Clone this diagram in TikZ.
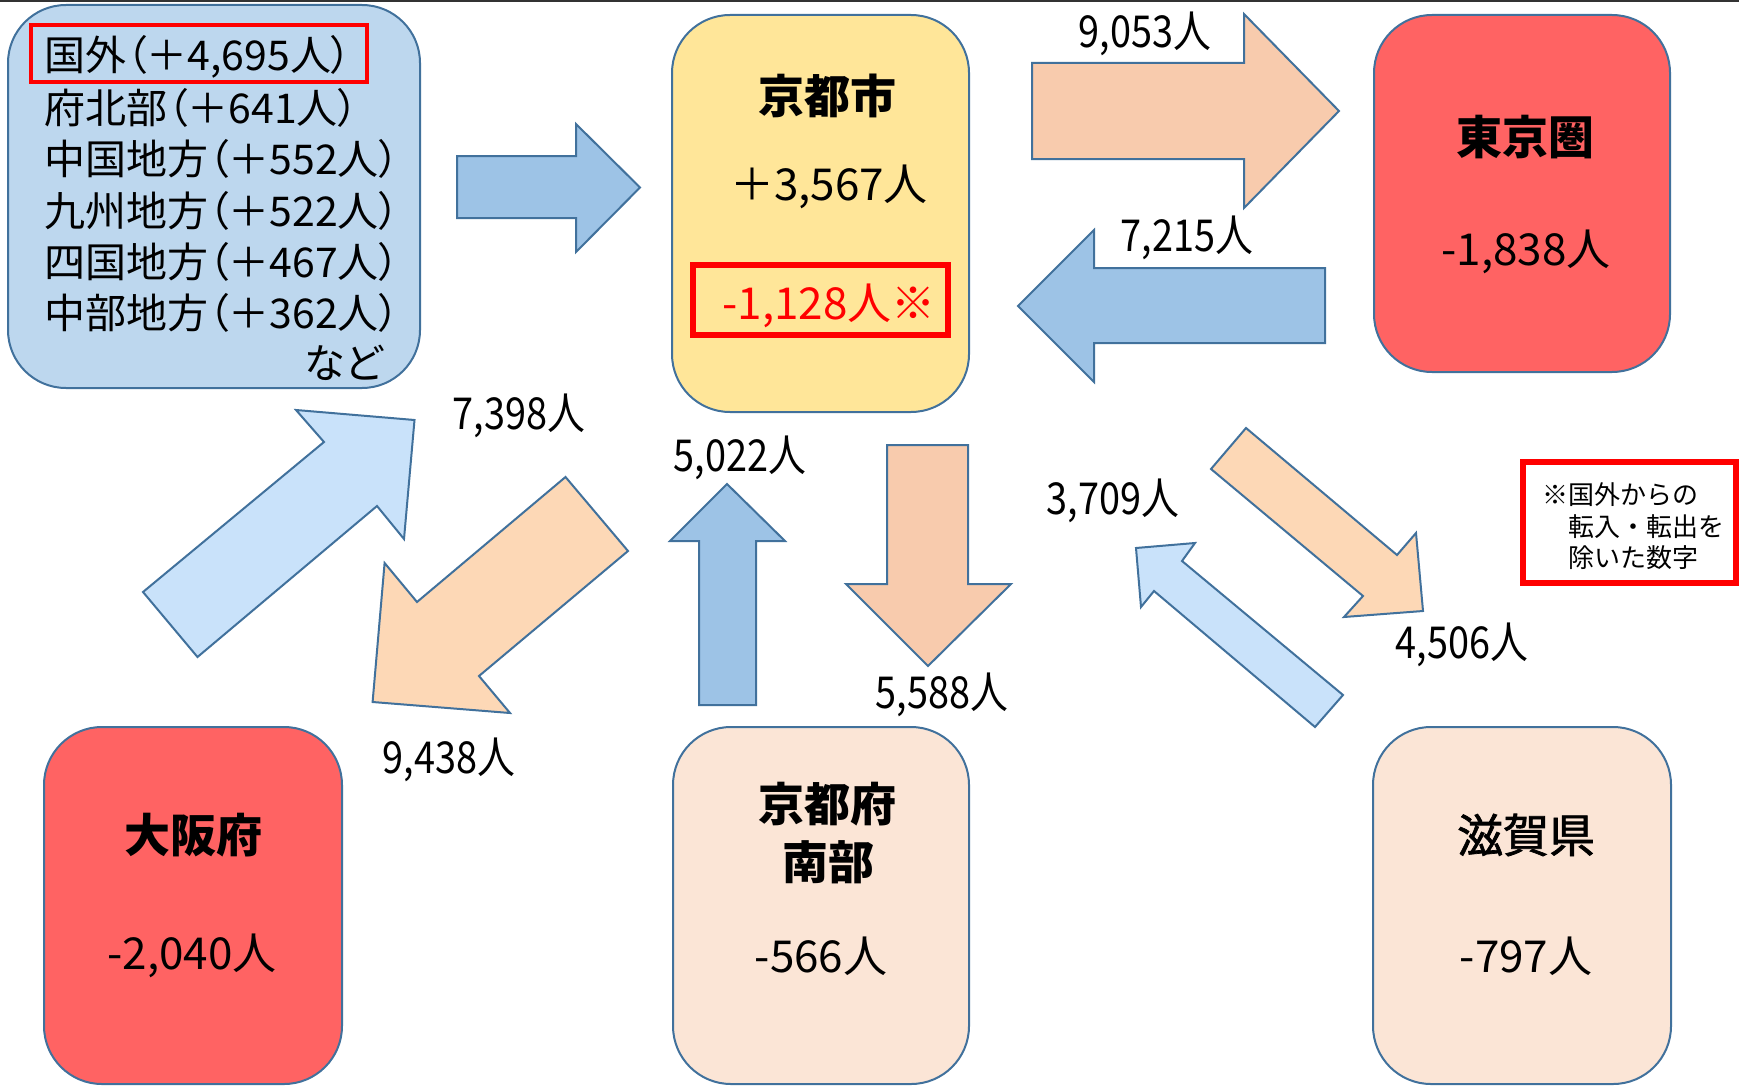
\documentclass[tikz,border=0pt]{standalone}
\usepackage{fontspec}
\setmainfont{Noto Sans CJK JP}
\newfontfamily\pjp{Noto Sans CJK JP}[RawFeature=+palt]
\newfontfamily\nrw{Noto Sans CJK JP}[FakeStretch=0.86]
\newfontfamily\medjp{Noto Sans CJK JP}[FakeBold=1.5]
\definecolor{edgeblue}{HTML}{41719C}
\definecolor{lbox}{HTML}{BDD7EE}
\definecolor{yel}{HTML}{FFE699}
\definecolor{redbox}{HTML}{FF6363}
\definecolor{pinkbox}{HTML}{FBE5D6}
\definecolor{arrblue}{HTML}{9DC3E6}
\definecolor{arrlblue}{HTML}{C9E2FA}
\definecolor{arrorange}{HTML}{F8CBAD}
\definecolor{arrlorange}{HTML}{FDD8B6}
\definecolor{topline}{HTML}{333333}
\begin{document}
\begin{tikzpicture}[x=1pt,y=-1pt,
  box/.style={draw=edgeblue, line width=2pt, rounded corners=58pt, inner sep=0pt},
  arr/.style={draw=edgeblue, line width=2pt, line join=miter},
  redframe/.style={draw=red, inner sep=0pt},
  lbl/.style={font=\nrw\fontsize{44}{50}\selectfont, inner sep=0pt},
  ttl/.style={font=\bfseries\fontsize{46}{52}\selectfont, inner sep=0pt},
  val/.style={font=\fontsize{44}{50}\selectfont, inner sep=0pt},
  lst/.style={font=\pjp\fontsize{41}{46}\selectfont, inner sep=0pt, anchor=west},
  notetxt/.style={font=\fontsize{26}{30}\selectfont, inner sep=0pt, anchor=west}]
\useasboundingbox (0,0) rectangle (1739,1089);
\fill[white] (0,0) rectangle (1739,1089);
\coordinate (tl) at (0,1.2);
\coordinate (tr) at (1739,1.2);
\draw[topline, line width=2.5pt] (tl) -- (tr);

% boxes
\node[box, fill=lbox, minimum width=412pt, minimum height=383pt] (left) at (214,196.5) {};
\node[box, fill=yel, minimum width=297pt, minimum height=397pt] (kyoto) at (820.5,213.5) {};
\node[box, fill=redbox, minimum width=296pt, minimum height=357pt] (tokyo) at (1522,193.5) {};
\node[box, fill=redbox, minimum width=298pt, minimum height=357pt] (osaka) at (193,905.5) {};
\node[box, fill=pinkbox, minimum width=296pt, minimum height=357pt] (nanbu) at (821,905.5) {};
\node[box, fill=pinkbox, minimum width=298pt, minimum height=357pt] (shiga) at (1522,905.5) {};

% red frames
\node[redframe, line width=3.5pt, minimum width=336pt, minimum height=57pt] (kfr) at (199,53.5) {};
\node[redframe, line width=6pt, minimum width=255pt, minimum height=70pt] (kyfr) at (820.5,300) {};
\node[redframe, line width=6pt, minimum width=213pt, minimum height=121pt, fill=white] (note) at (1629.5,522.5) {};

% arrows
\draw[arr, fill=arrblue] (457,156) -- (576,156) -- (576,124) -- (640,187.5) -- (576,252) -- (576,218) -- (457,218) -- cycle;
\draw[arr, fill=arrorange] (1032,63) -- (1244,63) -- (1244,14) -- (1339,111) -- (1244,208) -- (1244,159) -- (1032,159) -- cycle;
\draw[arr, fill=arrblue] (1325,268) -- (1094,268) -- (1094,230) -- (1018,306) -- (1094,382) -- (1094,343) -- (1325,343) -- cycle;
\draw[arr, fill=arrblue] (699,705) -- (699,541) -- (670,541) -- (727,484) -- (785,541) -- (756,541) -- (756,705) -- cycle;
\draw[arr, fill=arrorange] (887,445) -- (968,445) -- (968,584) -- (1011,584) -- (928,666) -- (846,584) -- (887,584) -- cycle;
\draw[arr, fill=arrlblue] (143,592) -- (324,442) -- (296,410) -- (414.5,420) -- (404,539) -- (377,506) -- (197.5,657) -- cycle;
\draw[arr, fill=arrlorange] (565.5,477) -- (417,602) -- (384.6,563) -- (372.6,702) -- (510,713) -- (479,676) -- (628,551) -- cycle;
\draw[arr, fill=arrlorange] (1246,428) -- (1397,555) -- (1416,533) -- (1423,611) -- (1344,617) -- (1363,596) -- (1211,469) -- cycle;
\draw[arr, fill=arrlblue] (1343,695) -- (1182,561) -- (1195,543) -- (1136,548) -- (1141,607) -- (1154,591) -- (1315,727) -- cycle;

% list in left box
\node[lst] (l1) at (44,57) {国外（＋4,695人）};
\node[lst] (l2) at (44,108) {府北部（＋641人）};
\node[lst] (l3) at (44,159) {中国地方（＋552人）};
\node[lst] (l4) at (44,211) {九州地方（＋522人）};
\node[lst] (l5) at (44,262) {四国地方（＋467人）};
\node[lst] (l6) at (44,313) {中部地方（＋362人）};
\node[lst, anchor=east] (l7) at (383,363) {など};

% box texts
\node[ttl] (t1) at (827,96) {京都市};
\node[val] (v1) at (829,187) {＋3,567人};
\node[val, text=red] (v1b) at (829,306) {-1,128人※};
\node[ttl] (t2) at (1525,137) {東京圏};
\node[val] (v2) at (1526,252) {-1,838人};
\node[ttl] (t3) at (193,835) {大阪府};
\node[val] (v3) at (192,956) {-2,040人};
\node[ttl] (t4) at (827,804) {京都府};
\node[ttl] (t4b) at (828,862) {南部};
\node[val] (v4) at (821,956) {-566人};
\node[ttl, font=\medjp\fontsize{46}{52}\selectfont] (t5) at (1526,835) {滋賀県};
\node[val] (v5) at (1526,956) {-797人};

% flow labels
\node[lbl] (f1) at (1145,34) {9,053人};
\node[lbl] (f2) at (1187,238) {7,215人};
\node[lbl] (f3) at (519,416) {7,398人};
\node[lbl] (f4) at (740,458) {5,022人};
\node[lbl] (f5) at (942,695) {5,588人};
\node[lbl] (f6) at (449,760) {9,438人};
\node[lbl] (f7) at (1113,501) {3,709人};
\node[lbl] (f8) at (1462,645) {4,506人};

% note
\node[notetxt] (n1) at (1542,495) {※国外からの};
\node[notetxt] (n2) at (1568,527) {転入・転出を};
\node[notetxt] (n3) at (1568,558) {除いた数字};
\end{tikzpicture}
\end{document}
